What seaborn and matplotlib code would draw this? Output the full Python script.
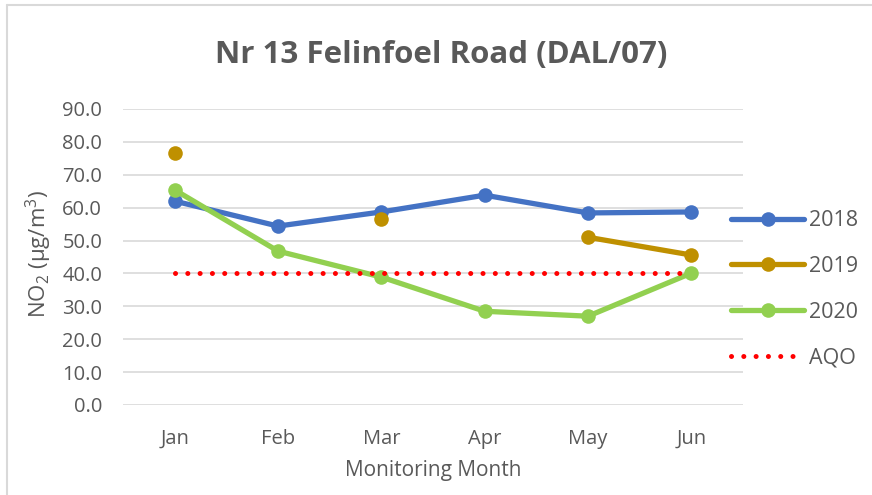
import numpy as np
import pandas as pd
import matplotlib
matplotlib.use("Agg")
import matplotlib.pyplot as plt
from matplotlib.lines import Line2D
import seaborn as sns

months = ["Jan", "Feb", "Mar", "Apr", "May", "Jun"]
y2018 = [62.0, 54.4, 58.7, 63.8, 58.4, 58.7]
y2019 = [76.6, np.nan, 56.5, np.nan, 51.0, 45.6]
y2020 = [65.4, 46.8, 38.9, 28.5, 27.0, 40.1]
aqo = [40.0] * 6
years = ["2018", "2019", "2020"]
colors = {"2018": "#4472C4", "2019": "#BF9000", "2020": "#92D050"}
aqo_color = "#FF0000"

sns.set_theme(style="white")
plt.rcParams["font.family"] = ["Open Sans", "DejaVu Sans"]
plt.rcParams["mathtext.fontset"] = "custom"
plt.rcParams["mathtext.rm"] = "Open Sans"
plt.rcParams["mathtext.it"] = "Open Sans:italic"
plt.rcParams["mathtext.bf"] = "Open Sans:bold"

# long-form data with contiguous segments as units
rows = []
seg = 0
for yr, vals in zip(years, [y2018, y2019, y2020]):
    prev_nan = True
    for i, v in enumerate(vals):
        if np.isnan(v):
            prev_nan = True
            continue
        if prev_nan:
            seg += 1
        prev_nan = False
        rows.append({"month": i, "value": v, "year": yr, "seg": seg})
df = pd.DataFrame(rows)

LW = 3.8
MS = 10.5

fig = plt.figure(figsize=(8.72, 4.95), dpi=100)
ax = fig.add_axes([123 / 872, 1 - 405 / 495, 620 / 872, (405 - 109) / 495])

sns.lineplot(data=df, x="month", y="value", hue="year", units="seg",
             estimator=None, palette=colors, hue_order=years, marker="o",
             markersize=MS, markeredgewidth=0, linewidth=LW, legend=False,
             ax=ax, sort=False)
sns.lineplot(x=list(range(6)), y=aqo, color=aqo_color, linewidth=3.6,
             linestyle=(0, (0.01, 2.45)), dash_capstyle="round", ax=ax,
             legend=False)

ax.set_xlim(-0.5, 5.5)
ax.set_ylim(0, 90)
ax.set_yticks(np.arange(0, 91, 10))
ax.set_yticklabels([f"{v:.1f}" for v in np.arange(0, 91, 10)])
ax.set_xticks(range(6))
ax.set_xticklabels(months)
ax.grid(axis="y", color="#d9d9d9", linewidth=1.2)
ax.set_axisbelow(True)
for s in ax.spines.values():
    s.set_visible(False)
ax.tick_params(axis="both", length=0, labelsize=14.5, colors="#595959")
ax.tick_params(axis="y", pad=15)
ax.tick_params(axis="x", pad=17)
ax.set_xlabel("Monitoring Month", fontsize=15, color="#595959")
ax.xaxis.set_label_coords(0.5, -0.185)
ax.set_ylabel("NO$_2$ (µg/m$^3$)", fontsize=16, color="#595959")
ax.yaxis.set_label_coords(-0.112, 0.51)
fig.text(441 / 872, 1 - 55 / 495, "Nr 13 Felinfoel Road (DAL/07)",
         fontsize=22.5, fontweight="bold", color="#595959",
         ha="center", va="center")

handles = [Line2D([], [], color=colors[y], marker="o", markersize=MS,
                  markeredgewidth=0, linewidth=LW) for y in years]
handles.append(Line2D([], [], color=aqo_color, linewidth=3.6,
                      linestyle=(0, (0.01, 2.45)), dash_capstyle="round"))
leg = fig.legend(handles, years + ["AQO"], loc="upper left",
                 bbox_to_anchor=(716 / 872, 1 - 195 / 495), frameon=False,
                 fontsize=15.5, labelspacing=1.15, handlelength=3.4,
                 handletextpad=0.2, borderpad=0.2)
for t in leg.get_texts():
    t.set_color("#595959")

# chart border
fig.add_artist(Line2D([7 / 872, 1], [1 - 5 / 495, 1 - 5 / 495],
                      transform=fig.transFigure, color="#d9d9d9", linewidth=1.5))
fig.add_artist(Line2D([7 / 872, 7 / 872], [0, 1 - 5 / 495],
                      transform=fig.transFigure, color="#d9d9d9", linewidth=1.5))

fig.savefig("out.png", dpi=100)
